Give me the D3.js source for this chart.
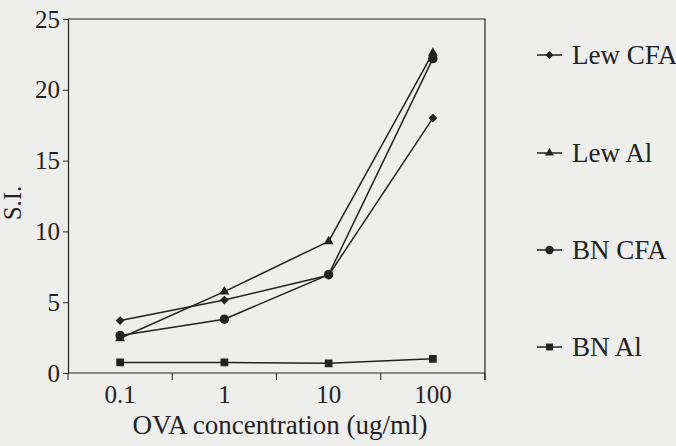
<!DOCTYPE html>
<html>
<head>
<meta charset="utf-8">
<script src="https://cdn.jsdelivr.net/npm/d3@7"></script>
<style>
  body { margin: 0; background: #eeeeec; }
  svg { display: block; }
  text { font-family: "Liberation Serif", "DejaVu Serif", serif; }
</style>
</head>
<body>
<div id="chart-area"></div>
<script>
const SVG_WIDTH = 676;
const SVG_HEIGHT = 446;

const concentrations = ["0.1", "1", "10", "100"];
const seriesNames = ["Lew CFA", "Lew Al", "BN CFA", "BN Al"];
const lewCFA = [3.7, 5.15, 6.9, 18.0];
const lewAl = [2.45, 5.75, 9.3, 22.6];
const bnCFA = [2.65, 3.8, 6.95, 22.2];
const bnAl = [0.75, 0.75, 0.68, 1.0];
const yTicks = [0, 5, 10, 15, 20, 25];

const series = [
  { name: seriesNames[0], values: lewCFA, symbol: d3.symbolDiamond2, size: 50 },
  { name: seriesNames[1], values: lewAl, symbol: d3.symbolTriangle, size: 42 },
  { name: seriesNames[2], values: bnCFA, symbol: d3.symbolCircle, size: 70 },
  { name: seriesNames[3], values: bnAl, symbol: d3.symbolSquare, size: 60 }
];

const ink = "#222";
const tickFont = "25px";
const labelFont = "27px";

const svg = d3.select("#chart-area").append("svg")
  .attr("width", SVG_WIDTH).attr("height", SVG_HEIGHT);

const x = d3.scaleBand().domain(concentrations).range([68, 485]);
const y = d3.scaleLinear().domain([0, 25]).range([373, 19]);

// y axis
const yAxis = svg.append("g").attr("transform", "translate(68,0)")
  .call(d3.axisLeft(y).tickValues(yTicks).tickSize(5).tickPadding(3));
yAxis.attr("font-family", null);
yAxis.select(".domain").attr("stroke", ink).attr("stroke-width", 1.2);
yAxis.selectAll(".tick line").attr("stroke", ink);
yAxis.selectAll("text").attr("fill", ink).attr("font-size", tickFont);

// x axis: labels centred on bands, ticks on band edges
const xAxis = svg.append("g").attr("transform", "translate(0,373)")
  .call(d3.axisBottom(x).tickSize(0).tickPadding(12));
xAxis.attr("font-family", null);
xAxis.select(".domain").attr("stroke", ink).attr("stroke-width", 1.2).attr("d", `M68,0H485`);
xAxis.selectAll("text").attr("fill", ink).attr("font-size", tickFont);

const edges = concentrations.map(c => x(c)).concat([x.range()[1]]);
svg.append("g").selectAll("line").data(edges).enter().append("line")
  .attr("x1", d => d).attr("x2", d => d)
  .attr("y1", 373).attr("y2", 380)
  .attr("stroke", ink).attr("stroke-width", 1);

// frame top and right
svg.append("path")
  .attr("d", `M68,${y(25)}H485V380`)
  .attr("fill", "none").attr("stroke", ink).attr("stroke-width", 1.2);

// axis titles
svg.append("text")
  .attr("x", 280).attr("y", 434)
  .attr("text-anchor", "middle")
  .attr("font-size", labelFont).attr("fill", ink)
  .text("OVA concentration (ug/ml)");

svg.append("text")
  .attr("transform", "translate(21,203) rotate(-90)")
  .attr("text-anchor", "middle")
  .attr("font-size", tickFont).attr("fill", ink)
  .text("S.I.");

// lines and markers
const line = d3.line()
  .x((v, i) => x(concentrations[i]) + x.bandwidth() / 2)
  .y(v => y(v));

const groups = svg.selectAll(".series").data(series).enter().append("g").attr("class", "series");

groups.append("path")
  .attr("d", s => line(s.values))
  .attr("fill", "none").attr("stroke", ink).attr("stroke-width", 1.5);

groups.each(function (s) {
  d3.select(this).selectAll("path.mark").data(s.values).enter().append("path")
    .attr("class", "mark")
    .attr("transform", (v, i) => `translate(${x(concentrations[i]) + x.bandwidth() / 2},${y(v)})`)
    .attr("d", d3.symbol().type(s.symbol).size(s.size))
    .attr("fill", ink);
});

// legend
const legendY = [55, 153, 250, 347];
const legend = svg.selectAll(".legend").data(series).enter().append("g")
  .attr("class", "legend")
  .attr("transform", (s, i) => `translate(537,${legendY[i]})`);

legend.append("line")
  .attr("x1", 0).attr("x2", 25).attr("y1", 0).attr("y2", 0)
  .attr("stroke", ink).attr("stroke-width", 1.5);
legend.append("path")
  .attr("transform", "translate(12.5,0)")
  .attr("d", s => d3.symbol().type(s.symbol).size(s.size * 0.8)())
  .attr("fill", ink);
legend.append("text")
  .attr("x", 35).attr("y", 0).attr("dy", "0.35em")
  .attr("font-size", labelFont).attr("fill", ink)
  .text(s => s.name);
</script>
</body>
</html>
